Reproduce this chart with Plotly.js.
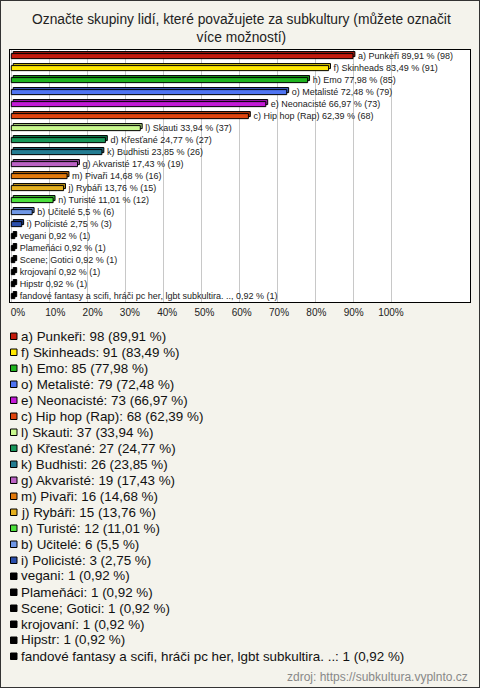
<!DOCTYPE html>
<html><head><meta charset="utf-8">
<script src="https://cdn.plot.ly/plotly-3.0.1.min.js"></script>
<style>
html,body{margin:0;padding:0;background:#f4f3ec;}
#chart{width:480px;height:688px;}
#frame{position:absolute;left:0;top:0;width:478px;height:686px;border:1px solid #333;pointer-events:none;}
</style>
</head><body>
<div id="chart"></div><div id="frame"></div>
<script>
const categories = [
  "a) Punkeři", "f) Skinheads", "h) Emo", "o) Metalisté", "e) Neonacisté",
  "c) Hip hop (Rap)", "l) Skauti", "d) Křesťané", "k) Budhisti", "g) Akvaristé",
  "m) Pivaři", "j) Rybáři", "n) Turisté", "b) Učitelé", "i) Policisté",
  "vegani", "Plameňáci", "Scene; Gotici", "krojovaní", "Hipstr",
  "fandové fantasy a scifi, hráči pc her, lgbt subkultira. .."
];
const percents = [89.91, 83.49, 77.98, 72.48, 66.97, 62.39, 33.94, 24.77, 23.85, 17.43,
  14.68, 13.76, 11.01, 5.5, 2.75, 0.92, 0.92, 0.92, 0.92, 0.92, 0.92];
const counts = [98, 91, 85, 79, 73, 68, 37, 27, 26, 19, 16, 15, 12, 6, 3, 1, 1, 1, 1, 1, 1];
const colors = ["#c41a0c", "#ffe800", "#1fb41f", "#4f74f2", "#c21ad6", "#e0440e",
  "#c9f98e", "#17965a", "#237c92", "#bb62c4", "#e2790c", "#e5b01e", "#4ce03c",
  "#6f97e5", "#2a4eab", "#000000", "#000000", "#000000", "#000000", "#000000", "#000000"];
const tickVals = [0, 10, 20, 30, 40, 50, 60, 70, 80, 90, 100];
const tickText = ["0%", "10%", "20%", "30%", "40%", "50%", "60%", "70%", "80%", "90%", "100%"];
const title = "Označte skupiny lidí, které považujete za subkultury (můžete označit<br>více možností)";
const source = "zdroj: https://subkultura.vyplnto.cz";

const FONT = "Liberation Sans, Arial, sans-serif";
const fmt = v => String(v).replace('.', ',');
function darken(hex, f) {
  const n = parseInt(hex.slice(1), 16);
  const r = Math.round(((n >> 16) & 255) * f), g = Math.round(((n >> 8) & 255) * f), b = Math.round((n & 255) * f);
  return `rgb(${r},${g},${b})`;
}
const barNames = categories.map((c, i) => i === categories.length - 1 ? c + "," : c);
const barText = categories.map((c, i) => "\u00a0\u00a0" + barNames[i] + " " + fmt(percents[i]) + " % (" + counts[i] + ")");

const depth = {
  type: 'bar', orientation: 'h', y: categories, x: percents, base: 0.5,
  offset: -0.37, width: 0.42,
  marker: {color: colors.map(c => darken(c, 0.8)), line: {color: '#000', width: 1}},
  hoverinfo: 'skip', showlegend: false, xaxis: 'x', yaxis: 'y'
};
const front = {
  type: 'bar', orientation: 'h', y: categories, x: percents,
  offset: -0.2, width: 0.42,
  marker: {color: colors, line: {color: '#000', width: 1}},
  text: barText, textposition: 'outside', constraintext: 'none', cliponaxis: false,
  textfont: {family: FONT, size: 9, color: '#222'},
  hoverinfo: 'skip', showlegend: false, xaxis: 'x', yaxis: 'y'
};
const dummy = {type: 'scatter', x: [0], y: [categories[0]], xaxis: 'x2', yaxis: 'y', mode: 'markers',
  marker: {opacity: 0}, hoverinfo: 'skip', showlegend: false};

// plot area pixels: x 10..470, y 50..302
const px2x = px => (px - 10) / 460;
const py2y = py => (302 - py) / 252;
const annotations = [];
const shapes = [];
categories.forEach((c, i) => {
  const yc = 336 + 16 * i;
  annotations.push({xref: 'paper', yref: 'paper', x: px2x(18.5), y: py2y(yc), xanchor: 'left', yanchor: 'middle',
    text: c + ": " + counts[i] + " (" + fmt(percents[i]) + " %)", showarrow: false,
    font: {family: FONT, size: 13.4, color: '#111'}});
  shapes.push({type: 'rect', xref: 'paper', yref: 'paper', x0: px2x(10.5), x1: px2x(17), y0: py2y(yc + 3.5), y1: py2y(yc - 3),
    fillcolor: colors[i], line: {color: '#000', width: 1}});
});
annotations.push({xref: 'paper', yref: 'paper', x: px2x(470), y: py2y(677), xanchor: 'right', yanchor: 'middle',
  text: source, showarrow: false, font: {family: FONT, size: 12, color: '#888'}});
annotations.push({xref: 'paper', yref: 'paper', x: px2x(241), y: py2y(10), xanchor: 'center', yanchor: 'top',
  text: title, showarrow: false, align: 'center', font: {family: FONT, size: 13.8, color: '#222'}});

const layout = {
  width: 480, height: 688,
  margin: {l: 10, r: 10, t: 50, b: 386, pad: 0},
  paper_bgcolor: '#f4f3ec', plot_bgcolor: '#ffffff',
  barmode: 'overlay',
  font: {family: FONT},
  xaxis: {range: [-0.34, 120.7], tickvals: tickVals, showticklabels: false, showgrid: true,
    gridcolor: '#c8c8c8', gridwidth: 1, zeroline: false, showline: true, mirror: true,
    linecolor: '#000', linewidth: 1, ticks: '', fixedrange: true},
  xaxis2: {overlaying: 'x', anchor: 'y', side: 'bottom', range: [-2.14, 121.2], tickvals: tickVals,
    ticktext: tickText, showgrid: false, zeroline: false, showline: false, ticks: '',
    ticklabelstandoff: 3,
    tickfont: {family: FONT, size: 10, color: '#222'}, fixedrange: true},
  yaxis: {type: 'category', categoryorder: 'array', categoryarray: categories, range: [20.5, -0.5],
    showticklabels: false, showgrid: false, zeroline: false, showline: true, mirror: true,
    linecolor: '#000', linewidth: 1, ticks: '', fixedrange: true},
  annotations: annotations, shapes: shapes, showlegend: false
};
Plotly.newPlot('chart', [depth, front, dummy], layout, {displayModeBar: false, staticPlot: true});
</script>
</body></html>
